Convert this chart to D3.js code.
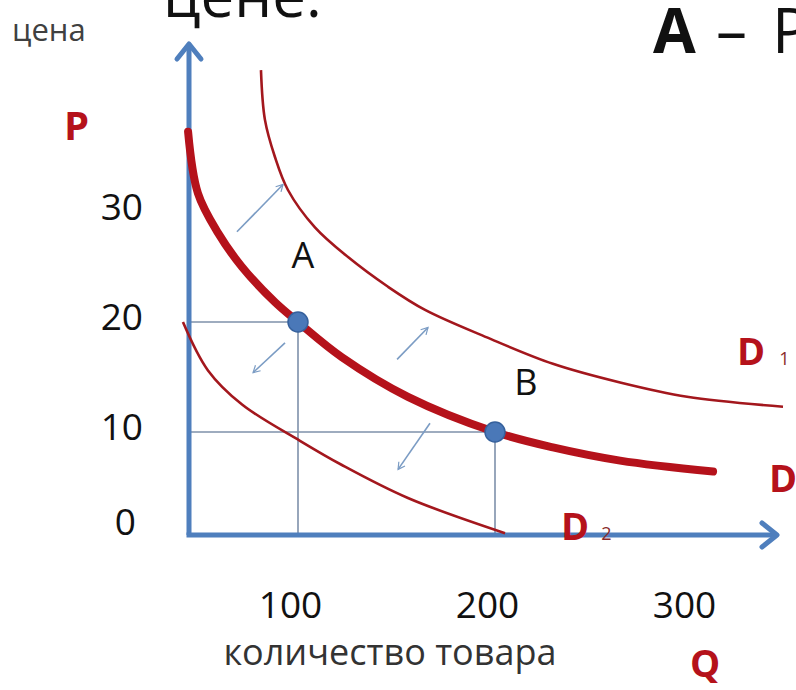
<!DOCTYPE html>
<html>
<head>
<meta charset="utf-8">
<script src="https://cdn.jsdelivr.net/npm/d3@7"></script>
<style>
  body { margin: 0; background: #fff; }
  svg text { font-family: "Open Sans", "Noto Sans", sans-serif; }
</style>
</head>
<body>
<div id="chart"></div>
<script>
// values (Q = quantity, P = price)
const qTicks = [100, 200, 300];
const pTicks = [0, 10, 20, 30];

// main demand curve D (thick)
const demandD = [[44.2, 37.3], [49.2, 31.7], [59.4, 28.1], [71.6, 25.0], [88.3, 21.8], [100, 20],
  [122.3, 16.8], [155.8, 13.2], [200, 10], [229.4, 8.6], [263.5, 7.4], [310.7, 6.4]];
// shifted right D1
const demandD1 = [[81.2, 42.9], [83.2, 38.4], [88.3, 35.0], [94.9, 32.0], [108.6, 28.6], [125.4, 25.9],
  [145.7, 23.2], [164.5, 21.1], [195.9, 18.6], [229.4, 16.2], [263.5, 14.5], [297.5, 13.2], [346.2, 12.3]];
// shifted left D2
const demandD2 = [[41.6, 20.0], [54.3, 15.6], [71.6, 12.5], [101.0, 9.2], [122.3, 7.0], [155.8, 4.0], [205.1, 0.8]];

const points = [{name: "A", q: 100, p: 20}, {name: "B", q: 200, p: 10}];

// shift arrows [from, to]
const shifts = [
  [[69.0, 28.2], [92.4, 32.5]],
  [[93.4, 18.1], [77.2, 15.4]],
  [[150.3, 16.6], [166.0, 19.5]],
  [[167.0, 10.8], [150.8, 6.6]]
];

var width = 796, height = 690;
const svg = d3.select("#chart").append("svg")
    .attr("width", width)
    .attr("height", height);

const x = d3.scaleLinear().domain([0, 300]).range([101, 692]);
const y = d3.scaleLinear().domain([0, 30]).range([542, 212]);

// axis corner (the drawn axes don't start at Q=0 in the original)
const ox = 189, oy = 535;
const axisBlue = "#4f7fbd", red = "#b5121b", darkRed = "#a3171d";

var defs = svg.append("defs");
defs.append("marker")
    .attr("id", "head")
    .attr("viewBox", "0 0 12 12")
    .attr("refX", 10).attr("refY", 6)
    .attr("markerWidth", 9).attr("markerHeight", 9)
    .attr("markerUnits", "userSpaceOnUse")
    .attr("orient", "auto")
  .append("path")
    .attr("d", "M1,1 L10,6 L1,11")
    .attr("fill", "none")
    .attr("stroke", "#7b9cc4")
    .attr("stroke-width", 1.6);

// title fragments at top (cut off in the original)
svg.append("text").attr("x", 163).attr("y", 17)
    .attr("font-size", 60).attr("fill", "#111").text("цене.");
const ttl = svg.append("text").attr("y", 53)
    .attr("font-size", 62).attr("fill", "#111");
ttl.append("tspan").attr("x", 653).attr("font-weight", "bold").text("А");
ttl.append("tspan").attr("x", 716).text("–");
ttl.append("tspan").attr("x", 772).text("Р");

svg.append("text").attr("x", 12).attr("y", 41)
    .attr("font-size", 31).attr("fill", "#404040").text("цена");

// guide lines to A and B
points.forEach(d => {
  svg.append("line")
      .attr("x1", ox).attr("y1", y(d.p)).attr("x2", x(d.q)).attr("y2", y(d.p))
      .attr("stroke", "#7e90aa").attr("stroke-width", 1.6);
  svg.append("line")
      .attr("x1", x(d.q)).attr("y1", y(d.p)).attr("x2", x(d.q)).attr("y2", oy)
      .attr("stroke", "#7e90aa").attr("stroke-width", 1.6);
});

// axes
svg.append("line").attr("x1", ox).attr("y1", oy).attr("x2", ox).attr("y2", 44)
    .attr("stroke", axisBlue).attr("stroke-width", 5);
svg.append("path").attr("d", `M${ox - 12},${59} L${ox},${44} L${ox + 12},${59}`)
    .attr("fill", "none").attr("stroke", axisBlue).attr("stroke-width", 5)
    .attr("stroke-linejoin", "round").attr("stroke-linecap", "round");
svg.append("line").attr("x1", ox - 2.5).attr("y1", oy).attr("x2", 776).attr("y2", oy)
    .attr("stroke", axisBlue).attr("stroke-width", 5);
svg.append("path").attr("d", `M${762},${oy - 12} L${777},${oy} L${762},${oy + 12}`)
    .attr("fill", "none").attr("stroke", axisBlue).attr("stroke-width", 5)
    .attr("stroke-linejoin", "round").attr("stroke-linecap", "round");

// demand curves
const line = d3.line()
    .x(d => x(d[0]))
    .y(d => y(d[1]))
    .curve(d3.curveCatmullRom.alpha(0.5));

svg.append("path").datum(demandD1).attr("d", line)
    .attr("fill", "none").attr("stroke", darkRed).attr("stroke-width", 2.6);
svg.append("path").datum(demandD2).attr("d", line)
    .attr("fill", "none").attr("stroke", darkRed).attr("stroke-width", 2.6);
svg.append("path").datum(demandD).attr("d", line)
    .attr("fill", "none").attr("stroke", red).attr("stroke-width", 8)
    .attr("stroke-linecap", "round");

// shift arrows
svg.selectAll(".shift")
    .data(shifts)
    .enter()
    .append("line")
    .attr("class", "shift")
    .attr("x1", d => x(d[0][0])).attr("y1", d => y(d[0][1]))
    .attr("x2", d => x(d[1][0])).attr("y2", d => y(d[1][1]))
    .attr("stroke", "#7b9cc4").attr("stroke-width", 1.6)
    .attr("marker-end", "url(#head)");

// points A, B
svg.selectAll(".pt")
    .data(points)
    .enter()
    .append("circle")
    .attr("class", "pt")
    .attr("cx", d => x(d.q)).attr("cy", d => y(d.p))
    .attr("r", 10)
    .attr("fill", "#4a78b8").attr("stroke", "#35609c").attr("stroke-width", 1.5);

svg.append("text").attr("x", 303).attr("y", 268).attr("text-anchor", "middle")
    .attr("font-size", 36).attr("fill", "#111").text("A");
svg.append("text").attr("x", 526).attr("y", 395).attr("text-anchor", "middle")
    .attr("font-size", 36).attr("fill", "#111").text("B");

// tick labels
const xaxis = d3.axisBottom(x).tickValues(qTicks).tickSize(0).tickPadding(0).tickFormat(d3.format("d"));
const xaxisG = svg.append("g").attr("transform", "translate(-8,592)").call(xaxis);
xaxisG.select(".domain").remove();
xaxisG.selectAll("text").attr("font-size", 37).attr("fill", "#111")
    .style("font-family", '"Open Sans", sans-serif');

const yaxis = d3.axisLeft(y).tickValues(pTicks).tickSize(0).tickPadding(0).tickFormat(d3.format("d"));
const yaxisG = svg.append("g").attr("transform", "translate(143,-4)").call(yaxis);
yaxisG.select(".domain").remove();
yaxisG.selectAll("text").attr("font-size", 37).attr("fill", "#111")
    .style("font-family", '"Open Sans", sans-serif');
yaxisG.selectAll(".tick").filter(d => d === 0).select("text")
    .attr("x", -7).attr("y", -15);

svg.append("text").attr("x", 390).attr("y", 665).attr("text-anchor", "middle")
    .attr("font-size", 36).attr("fill", "#333").text("количество товара");

// axis letters and curve names
svg.append("text").attr("x", 64).attr("y", 140)
    .attr("font-size", 40).attr("font-weight", "bold").attr("fill", red).text("P");
svg.append("text").attr("x", 705).attr("y", 677).attr("text-anchor", "middle")
    .attr("font-size", 38).attr("font-weight", "bold").attr("fill", red).text("Q");

const d1 = svg.append("text").attr("x", 737).attr("y", 365).attr("fill", red);
d1.append("tspan").attr("font-size", 38).attr("font-weight", "bold").text("D");
d1.append("tspan").attr("dx", 14).attr("font-size", 18).attr("fill", "#8a2a2a").text("1");

svg.append("text").attr("x", 769).attr("y", 492)
    .attr("font-size", 38).attr("font-weight", "bold").attr("fill", red).text("D");

const d2 = svg.append("text").attr("x", 561).attr("y", 540).attr("fill", red);
d2.append("tspan").attr("font-size", 38).attr("font-weight", "bold").text("D");
d2.append("tspan").attr("dx", 12).attr("font-size", 18).attr("fill", "#8a2a2a").text("2");
</script>
</body>
</html>
